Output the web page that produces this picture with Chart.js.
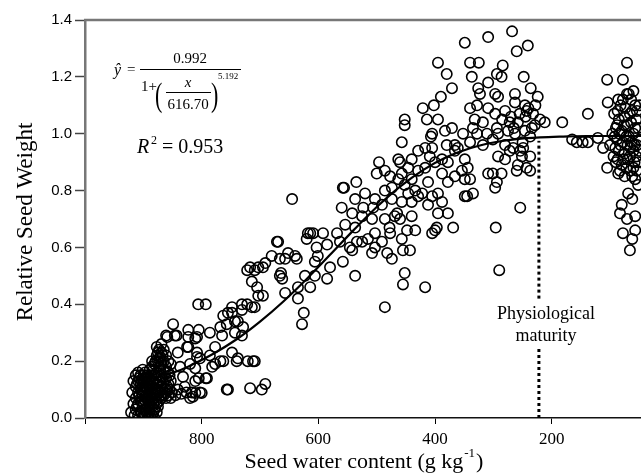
<!DOCTYPE html>
<html lang="en">
<head>
  <meta charset="UTF-8">
  <title>Relative seed weight vs seed water content</title>
  <script src="https://cdn.jsdelivr.net/npm/chart.js"></script>
  <style>
    body {
      margin: 0;
      background: #fff;
    }
    .chart-box {
      position: relative;
      width: 641px;
      height: 473px;
    }
  </style>
</head>
<body>
  <div class="chart-box">
    <canvas id="chart" width="641" height="473"></canvas>
  </div>

  <script>
    // observed points: [seed water content (g/kg), relative seed weight]
    const observed = [
      // dense cluster at harvest start
      [921,0.02],[917,0.05],[917,0.13],[913,0.03],[913,0.07],[913,0.11],[913,0.15],
      [909,0.01],[909,0.05],[909,0.09],[909,0.13],[909,0.16],
      [905,0.02],[905,0.06],[905,0.10],[905,0.12],[905,0.15],
      [901,0.00],[901,0.04],[901,0.08],[901,0.11],[901,0.14],[901,0.17],
      [897,0.01],[897,0.03],[897,0.06],[897,0.09],[897,0.13],[897,0.16],
      [893,0.00],[893,0.04],[893,0.07],[893,0.10],[893,0.12],[893,0.15],
      [889,0.02],[889,0.05],[889,0.08],[889,0.11],[889,0.14],[889,0.17],
      [885,0.01],[885,0.04],[885,0.06],[885,0.09],[885,0.13],[885,0.18],[885,0.20],
      [881,0.00],[881,0.03],[881,0.07],[881,0.10],[881,0.15],[881,0.19],
      [877,0.02],[877,0.05],[877,0.08],[877,0.12],[877,0.16],[877,0.22],[877,0.25],
      [873,0.06],[873,0.09],[873,0.13],[873,0.18],[873,0.21],[873,0.24],
      [869,0.07],[869,0.11],[869,0.15],[869,0.19],[869,0.23],[869,0.26],
      [865,0.08],[865,0.12],[865,0.17],[865,0.20],[865,0.24],
      [861,0.07],[861,0.10],[861,0.14],[861,0.18],[861,0.22],
      [857,0.08],[857,0.12],[857,0.16],[857,0.20],[853,0.07],[853,0.13],[853,0.19],
      [919,0.09],[915,0.01],[911,0.04],[911,0.12],[907,0.08],[907,0.14],[903,0.02],[903,0.06],
      [903,0.13],[899,0.05],[899,0.10],[899,0.15],[895,0.02],[895,0.08],[895,0.11],[895,0.14],
      [891,0.03],[891,0.06],[891,0.09],[891,0.13],[887,0.00],[887,0.07],[887,0.10],[887,0.15],
      [883,0.02],[883,0.05],[883,0.12],[883,0.17],[879,0.06],[879,0.09],[879,0.14],[879,0.20],
      [875,0.04],[875,0.10],[875,0.15],[875,0.23],[871,0.08],[871,0.13],[871,0.17],[867,0.10],
      [867,0.14],[867,0.22],[863,0.09],[863,0.16],[859,0.11],[855,0.10],[855,0.15],
      // 860 - 790
      [849,0.33],[861,0.29],[843,0.29],[823,0.31],[805,0.31],[806,0.40],[793,0.40],[811,0.28],
      [823,0.25],[808,0.23],[803,0.21],[793,0.14],[805,0.14],[829,0.11],[811,0.13],[803,0.09],
      [817,0.09],[841,0.10],[851,0.09],[832,0.145],[837,0.18],[820,0.19],[811,0.175],[808,0.215],
      [841,0.23],[825,0.25],[823,0.285],[808,0.285],[846,0.29],[859,0.285],[871,0.215],[875,0.20],
      [786,0.30],[791,0.14],[800,0.088],[811,0.088],[782,0.18],[845,0.08],[835,0.085],[826,0.09],
      [815,0.075],[820,0.07],
      // 790 - 660
      [768,0.32],[763,0.36],[748,0.39],[731,0.40],[714,0.39],[722,0.52],[709,0.52],[695,0.53],
      [680,0.57],[671,0.62],[714,0.48],[705,0.46],[695,0.43],[703,0.43],[740,0.20],[721,0.20],
      [709,0.20],[755,0.10],[717,0.105],[691,0.12],[697,0.10],[768,0.20],[777,0.19],[748,0.23],
      [731,0.29],[729,0.32],[743,0.34],[757,0.33],[765,0.29],[777,0.25],[748,0.37],[731,0.38],
      [755,0.37],[666,0.50],[703,0.53],[691,0.545],[717,0.53],[722,0.40],[709,0.39],[738,0.34],
      [743,0.30],[786,0.22],[763,0.20],[738,0.21],[757,0.10],[712,0.20],
      // 670 - 600
      [669,0.62],[666,0.56],[652,0.58],[657,0.56],[640,0.57],[637,0.56],[664,0.51],[662,0.49],
      [657,0.44],[635,0.46],[614,0.46],[635,0.42],[625,0.37],[628,0.33],[623,0.50],[606,0.50],
      [606,0.55],[601,0.57],[603,0.60],[620,0.63],[614,0.65],[645,0.77],[618,0.65],[609,0.65],
      // 600 - 500
      [585,0.49],[580,0.53],[585,0.61],[592,0.65],[568,0.65],[558,0.55],[537,0.50],[563,0.62],
      [546,0.60],[525,0.62],[508,0.58],[503,0.60],[554,0.68],[537,0.67],[542,0.59],[534,0.62],
      [515,0.63],[503,0.65],[556,0.81],[535,0.83],[558,0.81],[520,0.79],[537,0.77],[503,0.77],
      [560,0.74],[542,0.72],[523,0.74],[506,0.74],[525,0.71],[508,0.70],[500,0.86],
      // 500 - 400
      [486,0.39],[482,0.58],[474,0.56],[452,0.51],[455,0.47],[417,0.46],[455,0.59],[443,0.59],
      [457,0.63],[434,0.66],[448,0.66],[405,0.65],[397,0.67],[477,0.65],[491,0.62],[496,0.90],
      [477,0.85],[457,0.86],[486,0.80],[491,0.75],[474,0.77],[452,0.82],[434,0.80],[422,0.79],
      [412,0.83],[486,0.87],[474,0.81],[446,0.79],[457,0.76],[440,0.76],[429,0.78],[405,0.78],
      [412,0.75],[440,0.71],[486,0.70],[465,0.72],[460,0.70],[457,0.97],[452,1.05],[452,1.03],
      [421,1.09],[402,1.10],[414,1.05],[407,0.99],[405,0.95],[429,0.94],[463,0.91],[440,0.91],
      [446,0.88],[429,0.87],[417,0.88],[440,0.84],[463,0.84],[409,0.92],[417,0.95],[405,1.00],
      [460,0.90],[469,0.71],[478,0.67],
      // 400 - 300
      [395,1.25],[380,1.21],[371,1.16],[390,1.13],[395,1.05],[400,0.90],[388,0.86],[378,0.90],
      [366,0.94],[388,0.91],[380,0.96],[371,1.02],[383,1.01],[366,0.96],[395,0.79],[378,0.83],
      [366,0.85],[388,0.76],[378,0.72],[395,0.72],[369,0.67],[400,0.66],[349,1.32],[309,1.34],
      [340,1.25],[325,1.25],[337,1.20],[309,1.18],[326,1.16],[323,1.14],[340,1.09],[328,1.10],
      [309,1.09],[332,1.05],[335,1.02],[318,1.04],[328,1.00],[311,1.00],[352,1.00],[361,0.95],
      [340,0.97],[318,0.96],[301,0.98],[349,0.91],[344,0.88],[354,0.87],[349,0.84],[340,0.84],
      [309,0.86],[301,0.86],[345,0.78],[335,0.79],[349,0.78],
      // 300 - 200
      [268,1.36],[260,1.29],[241,1.31],[284,1.24],[294,1.21],[286,1.20],[248,1.20],[297,1.14],
      [292,1.13],[263,1.14],[236,1.16],[224,1.13],[280,1.08],[263,1.11],[246,1.10],[243,1.08],
      [297,1.07],[232,1.07],[220,1.05],[212,1.04],[229,1.03],[294,1.02],[272,1.04],[258,1.04],
      [246,1.01],[234,1.02],[292,1.00],[275,1.01],[263,1.00],[237,0.99],[280,0.96],[266,0.95],
      [249,0.95],[292,0.92],[280,0.91],[251,0.92],[237,0.92],[258,0.89],[243,0.88],[286,0.86],
      [294,0.83],[297,0.81],[254,0.74],[260,0.87],[237,0.87],[272,0.94],[254,0.94],[296,0.67],
      [290,0.52],[270,1.06],[255,1.07],[240,1.09],[228,1.10],[250,0.97],[285,1.05],[265,1.02],
      [245,1.06],
      // 200 - 100
      [182,1.04],[138,1.07],[165,0.98],[157,0.97],[147,0.97],[138,0.97],[121,0.985],[112,0.95],
      [105,0.88],[105,1.19],[104,1.11],[87,1.08],
      // dry end
      [78,1.19],[71,1.25],[71,1.14],[78,1.12],[64,1.12],[57,1.10],[85,1.05],[75,1.06],[66,1.07],
      [55,1.05],[90,1.02],[80,1.01],[70,1.03],[60,1.00],[52,1.02],[88,0.98],[78,0.97],[68,0.99],
      [58,0.96],[50,0.98],[85,0.94],[75,0.93],[65,0.95],[55,0.92],[90,0.90],[80,0.89],[70,0.91],
      [60,0.88],[52,0.90],[86,0.86],[75,0.85],[65,0.87],[57,0.84],[52,0.82],[69,0.79],[80,0.75],
      [62,0.77],[83,0.72],[71,0.70],[57,0.71],[78,0.65],[62,0.63],[57,0.66],[66,0.59],
      [96,1.00],[94,0.92],[100,0.96],[93,1.07],
      [82,1.10],[74,1.09],[62,1.08],[54,1.08],[88,1.03],[76,1.03],[64,1.04],[57,1.02],[84,1.00],
      [72,0.99],[63,0.97],[54,0.96],[82,0.96],[70,0.96],[60,0.94],[50,0.94],[87,0.91],[77,0.91],
      [66,0.92],[58,0.90],[83,0.87],[72,0.88],[62,0.85],[54,0.87],[91,0.95],[92,0.99],[86,1.12],
      [68,1.14],[60,1.15],[50,1.10]
    ];

    // fitted curve
    const fitWater  = [865, 840, 820, 780, 740, 700, 660, 620, 580, 540, 500, 460, 420, 380, 340, 300, 260, 220, 180, 140, 100, 47];
    const fitWeight = [0.15, 0.166, 0.184, 0.226, 0.277, 0.339, 0.41, 0.489, 0.574, 0.66, 0.742, 0.814, 0.873, 0.918, 0.949, 0.969, 0.981, 0.987, 0.990, 0.992, 0.992, 0.992];

    // physiological maturity marker
    const maturityWater = 222;
    const maturityLower = [0, 0.25];
    const maturityUpper = [0.42, 0.975];

    const xTicks = [1000, 800, 600, 400, 200];

    const serif = "'Liberation Serif', 'Times New Roman', serif";
    const sans = "'Liberation Sans', Arial, sans-serif";

    const textPlugin = {
      id: 'annotations',
      afterDraw(chart) {
        const ctx = chart.ctx;
        const area = chart.chartArea;
        const xs = chart.scales.x;
        ctx.save();

        // top frame line
        ctx.strokeStyle = '#777';
        ctx.lineWidth = 2.5;
        ctx.beginPath();
        ctx.moveTo(area.left - 1, area.top);
        ctx.lineTo(area.right, area.top);
        ctx.stroke();

        ctx.fillStyle = '#000';
        ctx.strokeStyle = '#000';

        // maturity label
        ctx.font = '18px ' + serif;
        ctx.textAlign = 'center';
        ctx.textBaseline = 'alphabetic';
        const mx = xs.getPixelForValue(210);
        ctx.fillText('Physiological', mx, 319);
        ctx.fillText('maturity', mx, 341);

        // axis titles
        ctx.save();
        ctx.translate(26, 222);
        ctx.rotate(-Math.PI / 2);
        ctx.font = '23px ' + serif;
        ctx.textBaseline = 'middle';
        ctx.fillText('Relative Seed Weight', 0, 0);
        ctx.restore();

        ctx.font = '22px ' + serif;
        ctx.textAlign = 'left';
        const main = 'Seed water content (g kg';
        const w1 = ctx.measureText(main).width;
        ctx.font = '13px ' + serif;
        const w2 = ctx.measureText('-1').width;
        ctx.font = '22px ' + serif;
        const w3 = ctx.measureText(')').width;
        let tx = 363 - (w1 + w2 + w3) / 2;
        ctx.fillText(main, tx, 468);
        tx += w1 + 1;
        ctx.font = '13px ' + serif;
        ctx.fillText('-1', tx, 457);
        tx += w2 + 1;
        ctx.font = '22px ' + serif;
        ctx.fillText(')', tx, 468);

        // fitted equation
        ctx.font = 'italic 16px ' + serif;
        ctx.fillText('\u0177', 114, 75);
        ctx.font = '15px ' + serif;
        ctx.fillText('=', 127, 74);
        ctx.lineWidth = 1;
        ctx.beginPath();
        ctx.moveTo(140, 69.5); ctx.lineTo(241, 69.5);
        ctx.moveTo(166, 92.5); ctx.lineTo(211, 92.5);
        ctx.stroke();
        ctx.textAlign = 'center';
        ctx.fillText('0.992', 190, 63);
        ctx.fillText('616.70', 188, 109);
        ctx.font = 'italic 15px ' + serif;
        ctx.fillText('x', 188, 87);
        ctx.textAlign = 'left';
        ctx.font = '15px ' + serif;
        ctx.fillText('1+', 141, 91);
        ctx.save();
        ctx.scale(1, 1.5);
        ctx.font = '22px ' + serif;
        ctx.fillText('(', 155, 106 / 1.5);
        ctx.fillText(')', 211, 106 / 1.5);
        ctx.restore();
        ctx.font = '9px ' + serif;
        ctx.fillText('5.192', 218, 79);

        // R squared
        ctx.font = 'italic 20px ' + serif;
        ctx.fillText('R', 137, 153);
        ctx.font = '12px ' + serif;
        ctx.fillText('2', 151, 144);
        ctx.font = '20px ' + serif;
        ctx.fillText('= 0.953', 162, 153);

        ctx.restore();
      }
    };

    new Chart(document.getElementById('chart'), {
      type: 'scatter',
      data: {
        datasets: [
          {
            label: 'fit',
            data: fitWater.map((x, i) => ({ x: x, y: fitWeight[i] })),
            showLine: true,
            borderColor: '#000',
            borderWidth: 2.2,
            pointRadius: 0,
            cubicInterpolationMode: 'monotone'
          },
          {
            label: 'maturity low',
            data: maturityLower.map(y => ({ x: maturityWater, y: y })),
            showLine: true,
            borderColor: '#000',
            borderWidth: 3,
            borderDash: [3, 3],
            pointRadius: 0
          },
          {
            label: 'maturity high',
            data: maturityUpper.map(y => ({ x: maturityWater, y: y })),
            showLine: true,
            borderColor: '#000',
            borderWidth: 3,
            borderDash: [3, 3],
            pointRadius: 0
          },
          {
            label: 'observed',
            data: observed.map(p => ({ x: p[0], y: p[1] })),
            pointRadius: 5.2,
            pointBorderWidth: 1.6,
            pointBorderColor: '#000',
            pointBackgroundColor: 'rgba(0,0,0,0)'
          }
        ]
      },
      options: {
        responsive: false,
        animation: false,
        events: [],
        layout: { autoPadding: false, padding: { top: 20, right: 0, left: 0, bottom: 0 } },
        plugins: {
          legend: { display: false },
          tooltip: { enabled: false }
        },
        scales: {
          x: {
            type: 'linear',
            reverse: true,
            min: 47,
            max: 1000,
            afterBuildTicks: (scale) => { scale.ticks = xTicks.map(v => ({ value: v })); },
            afterFit: (scale) => {
              scale.height = 55;
              scale.paddingLeft = 0;
              scale.paddingRight = 0;
            },
            ticks: {
              color: '#000',
              font: { family: serif, size: 17 },
              padding: 5,
              maxRotation: 0,
              callback: (v) => v === 1000 ? '' : v
            },
            grid: { drawOnChartArea: false, tickLength: 6, tickColor: '#000', tickWidth: 1 },
            border: { color: '#111', width: 1.5 }
          },
          y: {
            min: 0,
            max: 1.4,
            afterFit: (scale) => { scale.width = 85; },
            ticks: {
              stepSize: 0.2,
              color: '#000',
              font: { family: sans, size: 15 },
              padding: 3,
              callback: (v) => v.toFixed(1)
            },
            grid: { drawOnChartArea: false, tickLength: 10, tickColor: '#444', tickWidth: 1.5 },
            border: { color: '#777', width: 2.5 }
          }
        }
      },
      plugins: [textPlugin]
    });
  </script>
</body>
</html>
